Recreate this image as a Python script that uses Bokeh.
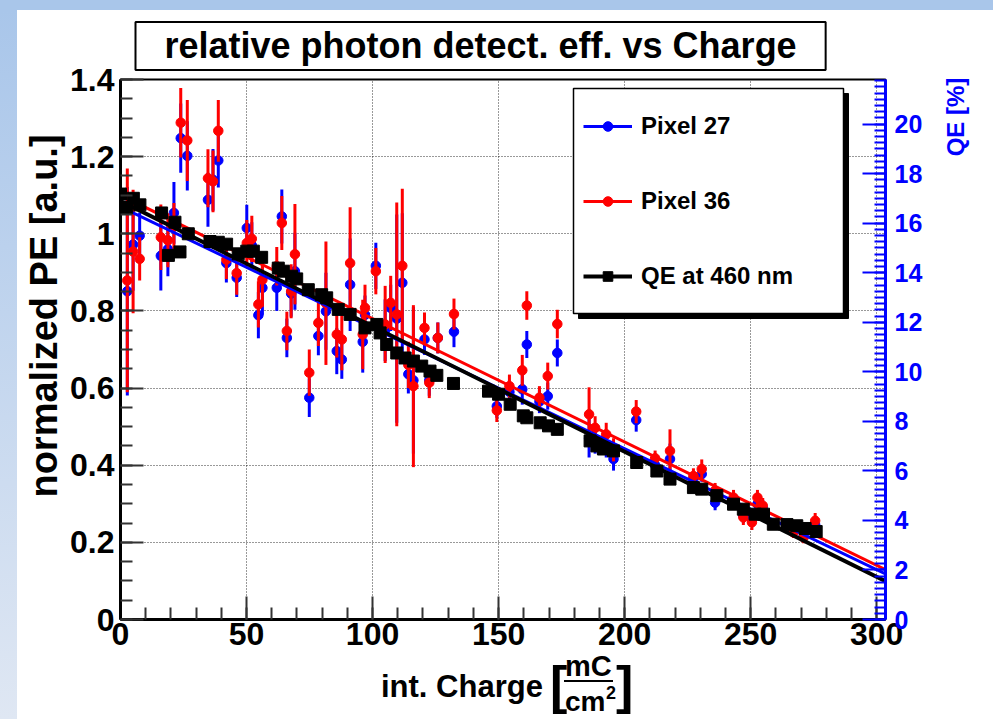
from bokeh.plotting import figure
from bokeh.models import (ColumnDataSource, Range1d, LinearAxis, SingleIntervalTicker,
                          CustomJSTickFormatter, Legend, LegendItem, BoxAnnotation, Spacer,
                          Div, Title)
from bokeh.layouts import column, row
from bokeh.embed import file_html
from bokeh.resources import INLINE

# ---------------- data ----------------
charge = [2.7, 5.0, 7.6, 16.0, 18.8, 21.2, 23.9, 26.5, 34.7, 36.7, 38.8, 42.0, 46.1, 50.1, 52.1,
          54.7, 56.3, 62.0, 64.0, 66.0, 67.7, 69.2, 74.9, 78.5, 81.5, 85.8, 87.8, 91.1, 96.1, 97.0,
          101.3, 105.0, 107.2, 109.6, 111.8, 114.2, 116.2, 120.6, 122.5, 125.9, 132.3, 149.3, 154.3,
          159.4, 161.2, 166.2, 169.5, 173.3, 185.9, 188.3, 192.7, 195.6, 204.6, 212.1, 218.0, 227.3,
          230.6, 235.9, 243.2, 247.1, 250.5, 252.7, 254.8, 267.0, 271.0, 275.6]
pix27 = [0.851, 0.972, 0.995, 0.943, 0.960, 1.054, 1.248, 1.202, 1.088, 1.140, 1.190, 0.924, 0.886,
         1.015, 0.970, 0.789, 0.860, 0.860, 1.045, 0.730, 0.845, 0.903, 0.575, 0.735, 0.799, 0.696,
         0.674, 0.868, 0.720, 0.790, 0.917, 0.750, 0.808, 0.780, 0.873, 0.636, 0.620, 0.726, 0.620,
         0.730, 0.746, 0.553, 0.590, 0.597, 0.713, 0.565, 0.579, 0.691, 0.470, 0.460, 0.450, 0.416,
         0.517, 0.400, 0.416, 0.365, 0.377, 0.303, 0.310, 0.270, 0.260, 0.299, 0.290, 0.230, 0.215,
         0.245]
pix27_err = [0.27, 0.12, 0.06, 0.09, 0.07, 0.08, 0.09, 0.09, 0.07, 0.08, 0.07, 0.05, 0.05, 0.06, 0.06,
             0.06, 0.07, 0.06, 0.07, 0.05, 0.06, 0.10, 0.05, 0.05, 0.10, 0.06, 0.05, 0.12, 0.08, 0.05,
             0.06, 0.08, 0.06, 0.27, 0.18, 0.05, 0.19, 0.04, 0.04, 0.04, 0.04, 0.03, 0.03, 0.04, 0.035,
             0.03, 0.035, 0.035, 0.05, 0.03, 0.03, 0.03, 0.03, 0.02, 0.04, 0.02, 0.02, 0.02, 0.02, 0.02,
             0.02, 0.02, 0.02, 0.015, 0.015, 0.02]
pix36 = [0.879, 0.954, 0.935, 0.991, 0.983, 1.020, 1.288, 1.242, 1.144, 1.136, 1.267, 0.933, 0.898,
         0.976, 0.987, 0.817, 0.881, 0.916, 1.028, 0.748, 0.851, 0.947, 0.640, 0.769, 0.820, 0.739,
         0.726, 0.924, 0.739, 0.808, 0.903, 0.765, 0.821, 0.791, 0.917, 0.660, 0.605, 0.756, 0.614,
         0.730, 0.792, 0.542, 0.605, 0.646, 0.814, 0.575, 0.631, 0.766, 0.532, 0.497, 0.480, 0.440,
         0.539, 0.418, 0.437, 0.372, 0.390, 0.334, 0.316, 0.265, 0.252, 0.316, 0.295, 0.226, 0.213,
         0.256]
pix36_err = [0.29, 0.16, 0.056, 0.085, 0.07, 0.06, 0.09, 0.105, 0.075, 0.08, 0.08, 0.05, 0.056, 0.06,
             0.06, 0.06, 0.07, 0.05, 0.07, 0.05, 0.07, 0.13, 0.06, 0.06, 0.16, 0.06, 0.08, 0.145, 0.09,
             0.06, 0.06, 0.10, 0.07, 0.29, 0.20, 0.06, 0.21, 0.04, 0.04, 0.04, 0.04, 0.03, 0.03, 0.04,
             0.037, 0.03, 0.035, 0.037, 0.07, 0.03, 0.03, 0.03, 0.03, 0.02, 0.056, 0.02, 0.025, 0.02,
             0.02, 0.02, 0.02, 0.02, 0.02, 0.015, 0.015, 0.02]
qe_charge = [0.0, 2.5, 5.1, 7.7, 16.3, 19.0, 21.6, 23.6, 26.9, 35.5, 38.8, 42.1, 46.7, 50.1, 52.7,
             56.0, 62.6, 64.6, 67.9, 69.9, 74.5, 79.8, 81.8, 86.4, 91.1, 97.0, 101.7, 103.0, 105.6,
             109.6, 112.9, 116.2, 119.5, 122.8, 125.5, 132.1, 146.0, 150.0, 154.6, 159.8, 161.2,
             166.5, 169.8, 173.3, 186.3, 189.0, 191.6, 195.6, 204.8, 212.8, 218.0, 227.3, 230.6,
             236.6, 243.2, 247.1, 251.8, 255.1, 259.0, 264.4, 268.3, 271.6, 276.0]
qe_norm = [1.103, 1.068, 1.092, 1.075, 1.054, 0.944, 1.030, 0.953, 1.000, 0.980, 0.978, 0.973, 0.948,
           0.955, 0.955, 0.939, 0.911, 0.903, 0.890, 0.883, 0.855, 0.842, 0.834, 0.804, 0.791, 0.756,
           0.765, 0.743, 0.713, 0.691, 0.678, 0.670, 0.657, 0.644, 0.633, 0.612, 0.592, 0.584, 0.558,
           0.528, 0.523, 0.510, 0.502, 0.493, 0.463, 0.450, 0.442, 0.437, 0.407, 0.385, 0.364, 0.342,
           0.338, 0.321, 0.299, 0.286, 0.273, 0.273, 0.247, 0.246, 0.243, 0.236, 0.228]
# linear fits (end points)
fit_charge = [0.0, 303.5]
fit_pix27 = [1.070, 0.118]
fit_pix36 = [1.100, 0.129]
fit_qe = [1.085, 0.099]

series_labels = ["Pixel 27", "Pixel 36", "QE at 460 nm"]
title_text = "relative photon detect. eff. vs Charge"
y_title = "normalized PE [a.u.]"
y2_title = "QE [%]"

SANS = "Liberation Sans"

# ---------------- figure ----------------
fig = figure(width=875, height=651, output_backend="svg", toolbar_location=None,
             x_range=Range1d(0, 303.5), y_range=Range1d(0, 1.40001),
             min_border_left=55, min_border_right=55, min_border_top=68, min_border_bottom=42)
fig.background_fill_color = "white"
fig.border_fill_color = "white"
fig.outline_line_color = "black"
fig.outline_line_width = 2

fig.xaxis.ticker = SingleIntervalTicker(interval=50, num_minor_ticks=5)
fig.yaxis.ticker = SingleIntervalTicker(interval=0.2, num_minor_ticks=4)
fig.yaxis.formatter = CustomJSTickFormatter(code="return (Math.round(tick*10)/10).toString();")
for ax in (fig.xaxis[0], fig.yaxis[0]):
    ax.axis_line_width = 3
    ax.axis_line_color = "black"
    ax.major_tick_in = 23
    ax.major_tick_out = 0
    ax.minor_tick_in = 12
    ax.minor_tick_out = 0
    ax.major_tick_line_width = 2
    ax.minor_tick_line_width = 2
    ax.major_tick_line_color = "#333333"
    ax.minor_tick_line_color = "#333333"
    ax.major_label_text_font = SANS
    ax.major_label_text_font_style = "bold"
    ax.major_label_text_font_size = "32px"
    ax.major_label_text_color = "black"
fig.xaxis.major_label_standoff = 3
fig.yaxis.major_label_standoff = 6

for g in (fig.xgrid[0], fig.ygrid[0]):
    g.grid_line_color = "black"
    g.grid_line_dash = "1 2"
    g.grid_line_width = 1
    g.grid_line_alpha = 0.8

# right QE axis
fig.extra_y_ranges = {"qe": Range1d(0, 21.8)}
qax = LinearAxis(y_range_name="qe", ticker=SingleIntervalTicker(interval=2, num_minor_ticks=8))
qax.axis_line_color = "blue"
qax.axis_line_width = 3
qax.major_tick_in = 23
qax.major_tick_out = 0
qax.minor_tick_in = 11
qax.minor_tick_out = 0
qax.major_tick_line_color = "blue"
qax.minor_tick_line_color = "blue"
qax.major_tick_line_width = 2
qax.minor_tick_line_width = 2
qax.major_label_text_color = "blue"
qax.major_label_text_font = SANS
qax.major_label_text_font_style = "bold"
qax.major_label_text_font_size = "25px"
qax.major_label_standoff = 9
fig.add_layout(qax, "right")

# main title (boxed)
ttl = Title(text=title_text, align="left", offset=15, standoff=19,
            text_font=SANS, text_font_style="bold", text_font_size="36px",
            text_color="black", background_fill_color="white",
            border_line_color="black", border_line_width=2)
try:
    ttl.padding = dict(left=29, right=29, top=3, bottom=4)
except Exception:
    pass
fig.add_layout(ttl, "above")

# ---------------- data glyphs ----------------
src27 = ColumnDataSource(dict(x=charge, y=pix27,
                              lo=[v - e for v, e in zip(pix27, pix27_err)],
                              hi=[v + e for v, e in zip(pix27, pix27_err)]))
src36 = ColumnDataSource(dict(x=charge, y=pix36,
                              lo=[v - e for v, e in zip(pix36, pix36_err)],
                              hi=[v + e for v, e in zip(pix36, pix36_err)]))
srcqe = ColumnDataSource(dict(x=qe_charge, y=qe_norm))

fig.segment(x0="x", y0="lo", x1="x", y1="hi", source=src27, line_color="blue", line_width=3)
s27 = fig.scatter("x", "y", source=src27, marker="circle", size=9.5,
                  fill_color="blue", line_color="blue")
fig.segment(x0="x", y0="lo", x1="x", y1="hi", source=src36, line_color="red", line_width=3)
s36 = fig.scatter("x", "y", source=src36, marker="circle", size=9.5,
                  fill_color="red", line_color="red")

l27 = fig.line(fit_charge, fit_pix27, line_color="blue", line_width=3)
l36 = fig.line(fit_charge, fit_pix36, line_color="red", line_width=3)
lqe = fig.line(fit_charge, fit_qe, line_color="black", line_width=4)

sqe = fig.scatter("x", "y", source=srcqe, marker="square", size=12,
                  fill_color="black", line_color="black")

# ---------------- legend ----------------
fig.add_layout(BoxAnnotation(left=458, right=728, bottom=301, top=526,
                             left_units="screen", right_units="screen",
                             top_units="screen", bottom_units="screen",
                             fill_color="black", fill_alpha=1.0, line_color="black", line_alpha=1.0))
fig.add_layout(BoxAnnotation(left=453, right=723, bottom=306, top=531,
                             left_units="screen", right_units="screen",
                             top_units="screen", bottom_units="screen",
                             fill_color="white", fill_alpha=1.0, line_color="black",
                             line_width=1.5, line_alpha=1.0))
legend = Legend(items=[LegendItem(label=series_labels[0], renderers=[l27, s27]),
                       LegendItem(label=series_labels[1], renderers=[l36, s36]),
                       LegendItem(label=series_labels[2], renderers=[lqe, sqe])],
                location=(463, 329), padding=0, margin=0, spacing=47,
                glyph_width=49, glyph_height=24, label_height=24, label_standoff=9,
                border_line_alpha=0, background_fill_alpha=0,
                label_text_font=SANS, label_text_font_style="bold",
                label_text_font_size="24px", label_text_color="black")
fig.add_layout(legend)

# ---------------- axis titles (HTML text around the figure) ----------------
FONT = "font-family:'Liberation Sans';font-weight:bold;line-height:1;white-space:nowrap;"

ytitle_div = Div(width=48, height=709, margin=0, styles={"overflow": "visible"},
                 text=('<div style="position:relative;width:48px;height:709px;">'
                       '<div style="position:absolute;left:27px;top:306px;'
                       'transform:translate(-50%,-50%) rotate(-90deg);' + FONT +
                       'font-size:38px;color:black;">' + y_title + '</div></div>'))

qe_div = Div(width=53, height=709, margin=0, styles={"overflow": "visible"},
             text=('<div style="position:relative;width:53px;height:709px;">'
                   '<div style="position:absolute;left:16px;top:107px;'
                   'transform:translate(-50%,-50%) rotate(-90deg);' + FONT +
                   'font-size:24px;color:blue;">' + y2_title + '</div></div>'))


def span(txt, left, top, size, extra=""):
    return ('<div style="position:absolute;left:%dpx;top:%dpx;font-size:%dpx;%s%s">%s</div>'
            % (left, top, size, FONT, extra, txt))


xtitle_html = ('<div style="position:relative;width:875px;height:58px;overflow:visible;color:black;">'
               + span("int. Charge", 316, 10, 31)
               + span("[", 485, -2, 52)
               + span("mC", 500, -9, 29)
               + '<div style="position:absolute;left:499px;top:19px;width:49px;height:0;'
                 'border-top:2px solid black;"></div>'
               + span("cm", 500, 27, 28)
               + span("2", 541, 23, 18)
               + span("]", 551, -2, 52)
               + '</div>')
xtitle_div = Div(width=875, height=58, margin=0, styles={"overflow": "visible"}, text=xtitle_html)

# ---------------- page with slide background strips ----------------
top_strip = Spacer(width=993, height=10, margin=0, styles={"background-color": "#a9c6ea"})
left_strip = Spacer(width=17, height=709, margin=0,
                    styles={"background": "linear-gradient(to bottom, #a9c6ea, #dfe7f3)"})
p = column(top_strip,
           row(left_strip, ytitle_div, column(fig, xtitle_div, spacing=0), qe_div, spacing=0),
           spacing=0)

open("out.html", "w").write(file_html(p, INLINE))
